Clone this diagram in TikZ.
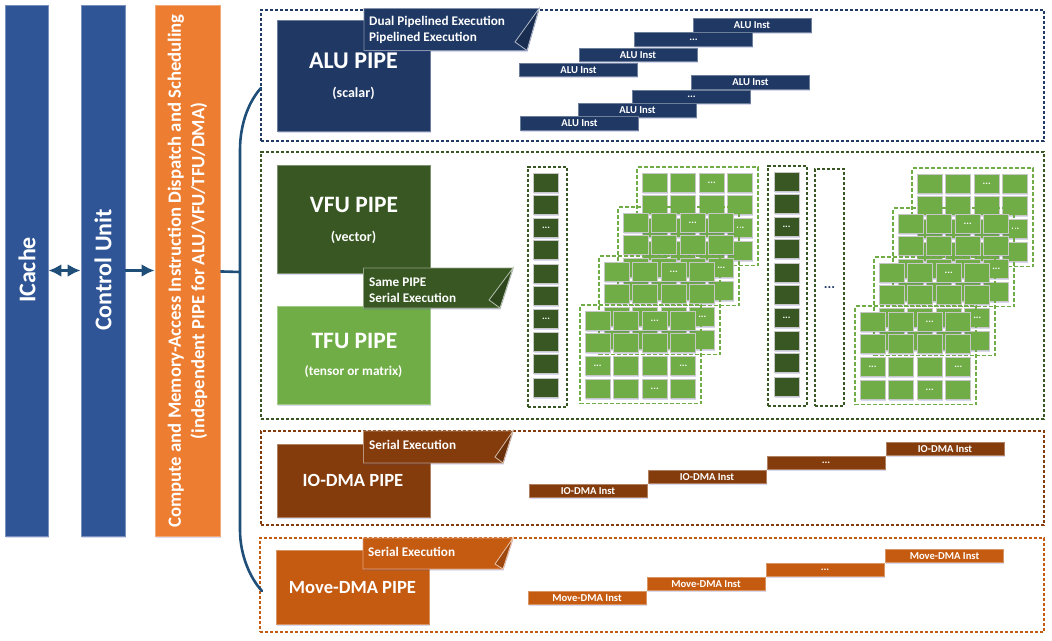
\documentclass[tikz,border=0pt]{standalone}
\usepackage{fontspec}
\setmainfont{Carlito}
\usetikzlibrary{arrows.meta,shadows}

\definecolor{cacheblue}{HTML}{2F5597}
\definecolor{navypipe}{HTML}{1F3864}
\definecolor{vfugreen}{HTML}{385723}
\definecolor{tfugreen}{HTML}{70AD47}
\definecolor{iobrown}{HTML}{843C0C}
\definecolor{moveorange}{HTML}{C55A11}
\definecolor{dispatchorange}{HTML}{ED7D31}
\definecolor{buslineblue}{HTML}{1F4E79}

\newcommand{\threedots}{...}

\tikzset{
    softshadow/.style={drop shadow={shadow xshift=.5pt, shadow yshift=-1.5pt, opacity=.22, fill=blue!40!gray}},
    block/.style={rectangle, inner sep=0pt, fill=#1, draw=#1!65!white, line width=.9pt, softshadow},
    instbar/.style={block=#1, minimum width=118, minimum height=13.5, text=white, font=\fontsize{10.6}{12}\selectfont\bfseries},
    cellbox/.style={block=#1, minimum width=25, minimum height=19, draw=black!22},
    framebox/.style={rectangle, inner sep=0pt, draw=#1, line width=1.5pt, dash pattern=on 3.4pt off 1.6pt},
    layerbox/.style={rectangle, inner sep=0pt, draw=tfugreen, line width=1.8pt, dash pattern=on 4pt off 2pt, minimum width=121, minimum height=98.5},
    title/.style={text=white, inner sep=0pt, font=\fontsize{#1}{#1}\selectfont\bfseries},
    subtitle/.style={text=white, inner sep=0pt, font=\fontsize{#1}{14}\selectfont\bfseries},
    notetext/.style={text=white, inner sep=0pt, anchor=north west, align=left, font=\fontsize{13.2}{16.2}\selectfont\bfseries},
    tinydots/.style={text=white, inner sep=0pt, font=\fontsize{10}{10}\selectfont\bfseries},
    flow/.style={draw=buslineblue, line width=2.6pt},
    flowhead/.style={flow, -{Latex[length=13pt,width=13pt]}},
    flowboth/.style={flow, {Latex[length=13pt,width=13pt]}-{Latex[length=13pt,width=13pt]}}
}

\begin{document}
\begin{tikzpicture}[x=1pt, y=-1pt]
    \useasboundingbox (0,0) rectangle (1052,640);

    % front end
    \node[block=cacheblue, minimum width=43, minimum height=531] (icache) at (26.5,270.5) {};
    \node[block=cacheblue, minimum width=44, minimum height=531] (control) at (103,270.5) {};
    \node[block=dispatchorange, minimum width=65, minimum height=531] (dispatch) at (187.5,270.5) {};
    \node[title=24, rotate=90] (icachetext) at (27,270) {ICache};
    \node[title=24, rotate=90] (controltext) at (103,270) {Control Unit};
    \node[rotate=90, text=white, inner sep=0pt, align=center, font=\fontsize{18.7}{23.4}\selectfont\bfseries] (dispatchtext) at (187.5,271)
        {Compute and Memory-Access Instruction Dispatch and Scheduling\\(independent PIPE for ALU/VFU/TFU/DMA)};
    \draw[flowboth] (icache) -- (control);
    \draw[flowhead] (control) -- (dispatch);

    % dashed frames
    \node[framebox=navypipe, minimum width=783, minimum height=131] (aluframe) at (652.5,75.5) {};
    \node[framebox=vfugreen, minimum width=783, minimum height=267] (vfuframe) at (652.5,285.5) {};
    \node[framebox=iobrown, minimum width=783, minimum height=94] (ioframe) at (652.5,478) {};
    \node[framebox=moveorange, minimum width=784, minimum height=94] (moveframe) at (652,585) {};

    % bus
    \coordinate (busjoin) at (240,272);
    \coordinate (bustop) at (261,88);
    \coordinate (busbottom) at (262,591);
    \draw[flow] (dispatch) -- (busjoin);
    \draw[flow, line cap=round] (bustop) .. controls (250,100) and (240,122) .. (240,150) -- (240,530)
        .. controls (240,555) and (250,578) .. (busbottom);

    % pipes
    \node[block=navypipe, minimum width=153, minimum height=111] (alupipe) at (353.5,75.5) {};
    \node[block=vfugreen, minimum width=153, minimum height=108] (vfupipe) at (353.5,219) {};
    \node[block=tfugreen, minimum width=153, minimum height=98] (tfupipe) at (353.5,355) {};
    \node[block=iobrown, minimum width=153, minimum height=73] (iopipe) at (353.5,480.5) {};
    \node[block=moveorange, minimum width=153, minimum height=74] (movepipe) at (352.5,587) {};

    \foreach \col/\xa/\xb/\xc/\xv/\ya/\yb/\yv in {navypipe/364/539/527/515/8.5/50.5/42, vfugreen/363.5/513/500/489/268/308/300,
        iobrown/363.5/513/503/495/431/463/457, moveorange/363/513/503/495/538/569/564} {
        \draw[fill=\col, draw=\col!55!white, line width=.8pt, softshadow] (\xa,\ya) -- (\xb,\ya) -- (\xc,\yb) -- (\xa,\yb) -- cycle;
        \draw[fill=\col!80!black, draw=\col!35!white, line width=.8pt] (\xb,\ya) -- (\xv,\yv) -- (\xc,\yb) -- cycle;
    }

    \node[title=24] (alutitle) at (353.5,61) {ALU PIPE};
    \node[subtitle=14] (alusub) at (353.5,93) {(scalar)};
    \node[title=23.5] (vfutitle) at (354,205) {VFU PIPE};
    \node[subtitle=14] (vfusub) at (353.5,237) {(vector)};
    \node[title=23.5] (tfutitle) at (354.5,341) {TFU PIPE};
    \node[subtitle=13.3] (tfusub) at (353.5,372) {(tensor or matrix)};
    \node[title=18.6] (iotitle) at (353,480.5) {IO-DMA PIPE};
    \node[title=18.6] (movetitle) at (352.5,587.5) {Move-DMA PIPE};
    \node[notetext] (alunote) at (369,16) {Dual Pipelined Execution\\Pipelined Execution};
    \node[notetext] (vfunote) at (369,277.5) {Same PIPE\\Serial Execution};
    \node[notetext] (ionote) at (369,440) {Serial Execution};
    \node[notetext] (movenote) at (368,547) {Serial Execution};

    % instruction bars
    \node[instbar=navypipe] (alua) at (752,25.5) {ALU Inst};
    \node[instbar=navypipe] (alub) at (693.5,39.5) {...};
    \node[instbar=navypipe] (aluc) at (638,55) {ALU Inst};
    \node[instbar=navypipe] (alud) at (578.5,70) {ALU Inst};
    \node[instbar=navypipe] (alue) at (750.5,82.5) {ALU Inst};
    \node[instbar=navypipe] (aluf) at (691.5,97) {...};
    \node[instbar=navypipe] (alug) at (637.5,110.5) {ALU Inst};
    \node[instbar=navypipe] (aluh) at (579.5,123.5) {ALU Inst};
    \foreach \i/\x/\y/\lab in {a/588/491/IO-DMA Inst, b/707/477/IO-DMA Inst, c/826/463/\threedots, d/945/449/IO-DMA Inst} {
        \node[instbar=iobrown] (io\i) at (\x,\y) {\lab};
    }
    \foreach \i/\x/\y/\lab in {a/587/598/Move-DMA Inst, b/706/584/Move-DMA Inst, c/825/570/\threedots, d/944.5/556/Move-DMA Inst} {
        \node[instbar=moveorange] (move\i) at (\x,\y) {\lab};
    }

    % vector columns
    \node[framebox=vfugreen, minimum width=39, minimum height=240] (columna) at (547.5,287) {};
    \node[framebox=vfugreen, minimum width=39, minimum height=240] (columnb) at (787.5,286) {};
    \node[framebox=vfugreen, minimum width=29, minimum height=237, text=navypipe, font=\fontsize{14}{14}\selectfont\bfseries] (columnc) at (829.5,287.5) {...};
    \foreach \s/\x/\dy in {a/546/0, b/786.5/-1} {
        \foreach \i/\y in {1/182.5,2/205,3/227.5,4/250,5/273.5,6/296,7/319,8/342,9/364,10/387.5} {
            \node[cellbox=vfugreen] (col\s\i) at (\x,\y+\dy) {};
        }
        \node[tinydots] (col\s dotsa) at (col\s3) {...};
        \node[tinydots] (col\s dotsb) at (col\s7) {...};
    }

    % tensor layers
    \foreach \s/\sx/\sy in {a/0/0, b/275/1} {
        \foreach \l/\lx/\ly in {4/637/167, 3/618/207, 2/599/256, 1/580/305} {
            \node[layerbox] (layer\s\l) at (\sx+\lx+60.5,\sy+\ly+49.25) {};
            \foreach \r in {0,1,2,3} {
                \foreach \c in {0,1,2,3} {
                    \node[cellbox=tfugreen] (cell\s\l\r\c) at (\sx+\lx+17.5+28.6*\c,\sy+\ly+15.5+22.8*\r) {};
                }
            }
            \foreach \r/\c in {0/2, 2/0, 2/3, 3/2} {
                \node[tinydots] (dots\s\l\r\c) at (cell\s\l\r\c) {...};
            }
        }
    }
\end{tikzpicture}
\end{document}
